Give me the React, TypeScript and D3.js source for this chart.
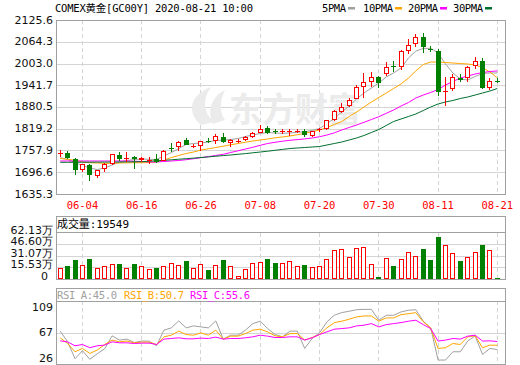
import * as d3 from "d3";

// trading days shown (06-01 .. 08-21)
const dates = [
  "06-01", "06-02", "06-03", "06-04", "06-05", "06-08", "06-09", "06-10", "06-11", "06-12",
  "06-15", "06-16", "06-17", "06-18", "06-19", "06-22", "06-23", "06-24", "06-25", "06-26",
  "06-29", "06-30", "07-01", "07-02", "07-03", "07-06", "07-07", "07-08", "07-09", "07-10",
  "07-13", "07-14", "07-15", "07-16", "07-17", "07-20", "07-21", "07-22", "07-23", "07-24",
  "07-27", "07-28", "07-29", "07-30", "07-31", "08-03", "08-04", "08-05", "08-06", "08-07",
  "08-10", "08-11", "08-12", "08-13", "08-14", "08-17", "08-18", "08-19", "08-20", "08-21",
];

const open = [
  1751, 1750, 1733, 1703, 1717, 1687, 1705, 1719, 1745, 1735,
  1740, 1731, 1730, 1733, 1728, 1764, 1767, 1787, 1769, 1771,
  1786, 1786, 1797, 1778, 1784, 1787, 1797, 1808, 1820, 1813,
  1810, 1811, 1812, 1813, 1799, 1816, 1819, 1844, 1867, 1884,
  1903, 1938, 1952, 1966, 1973, 1997, 1994, 2039, 2057, 2077,
  2045, 2039, 1924, 1930, 1962, 1961, 1997, 2010, 1935, 1955,
];
const high = [
  1759, 1756, 1736, 1721, 1719, 1704, 1722, 1748, 1753, 1753,
  1742, 1740, 1739, 1748, 1759, 1778, 1784, 1792, 1776, 1786,
  1792, 1804, 1808, 1789, 1790, 1799, 1809, 1830, 1827, 1818,
  1818, 1818, 1819, 1818, 1813, 1822, 1845, 1871, 1891, 1905,
  1942, 1975, 1980, 1967, 2006, 2010, 2040, 2072, 2086, 2090,
  2053, 2043, 1964, 1973, 1973, 1996, 2022, 2019, 1963, 1963,
];
const low = [
  1740, 1734, 1690, 1697, 1673, 1681, 1698, 1718, 1729, 1726,
  1706, 1725, 1720, 1722, 1727, 1755, 1757, 1772, 1764, 1757,
  1780, 1776, 1780, 1767, 1780, 1786, 1792, 1806, 1804, 1805,
  1804, 1800, 1807, 1797, 1797, 1811, 1817, 1842, 1863, 1880,
  1902, 1905, 1938, 1935, 1968, 1980, 1985, 2029, 2050, 2032,
  2035, 1912, 1882, 1926, 1952, 1952, 1988, 1931, 1928, 1948,
];
const close = [
  1752, 1736, 1703, 1720, 1689, 1703, 1719, 1747, 1734, 1737,
  1733, 1736, 1731, 1725, 1756, 1761, 1783, 1773, 1770, 1785,
  1784, 1799, 1783, 1787, 1785, 1795, 1808, 1818, 1808, 1811,
  1812, 1812, 1813.5, 1801, 1812, 1818, 1843, 1870, 1881, 1900,
  1938, 1952, 1966, 1947, 1994, 1994, 2038, 2055, 2077, 2049,
  2042, 1924, 1926, 1964, 1957, 1992, 2010, 1935, 1955, 1953,
];

const ma5 = [
  1737.6, 1732.5, 1724.0, 1715.6, 1708.5, 1704.3, 1708.5, 1717.0, 1725.4, 1729.7,
  1732.5, 1733.9, 1733.1, 1732.5, 1742.4, 1752.2, 1763.5, 1774.8, 1777.6, 1779.0,
  1781.8, 1786.0, 1787.4, 1788.8, 1791.7, 1797.3, 1801.5, 1805.8, 1808.6, 1807.2,
  1806.3, 1807.2, 1809.1, 1810.8, 1814.2, 1819.9, 1833.9, 1848.0, 1866.3, 1883.3,
  1903.0, 1919.9, 1934.0, 1948.1, 1965.0, 1976.3, 1990.3, 2018.5, 2038.2, 2045.3,
  2045.9, 2032.6, 2001.6, 1976.3, 1959.3, 1956.5, 1966.4, 1974.8, 1976.3, 1976.3,
];
const ma10 = [
  1735.3, 1733.0, 1730.2, 1725.4, 1723.5, 1722.6, 1721.8, 1721.8, 1722.6, 1723.2,
  1723.5, 1723.5, 1724.0, 1725.4, 1731.1, 1738.1, 1743.8, 1749.4, 1753.6, 1759.3,
  1762.6, 1766.3, 1769.9, 1773.9, 1777.6, 1781.2, 1784.6, 1787.4, 1790.3, 1793.6,
  1796.2, 1798.7, 1802.4, 1806.3, 1810.8, 1815.6, 1822.7, 1831.1, 1839.6, 1853.7,
  1866.3, 1880.4, 1894.5, 1907.2, 1919.9, 1932.6, 1945.2, 1962.2, 1981.9, 2000.2,
  2007.2, 2007.2, 2005.8, 2004.4, 2003.0, 2001.6, 1998.8, 1991.7, 1979.1, 1962.2,
];
const ma20 = [
  1728.3, 1728.3, 1728.3, 1728.3, 1728.3, 1728.3, 1728.3, 1728.3, 1728.3, 1728.3,
  1727.7, 1726.9, 1725.4, 1725.4, 1726.9, 1728.3, 1729.7, 1731.9, 1734.7, 1737.6,
  1740.7, 1743.8, 1747.2, 1752.2, 1757.0, 1762.1, 1766.9, 1772.5, 1777.6, 1781.0,
  1784.1, 1786.6, 1788.6, 1790.5, 1793.1, 1796.7, 1801.5, 1807.7, 1815.6, 1822.7,
  1829.7, 1837.3, 1845.2, 1853.1, 1862.7, 1872.0, 1883.3, 1893.1, 1905.8, 1914.2,
  1921.3, 1929.7, 1942.4, 1952.3, 1962.2, 1967.8, 1973.4, 1977.6, 1980.5, 1981.9,
];
const ma30 = [
  1724.6, 1724.6, 1724.6, 1724.9, 1724.9, 1725.2, 1725.2, 1725.4, 1725.4, 1725.7,
  1726.0, 1726.3, 1727.7, 1728.8, 1730.2, 1731.6, 1733.3, 1734.7, 1736.4, 1738.1,
  1739.8, 1741.8, 1743.5, 1745.2, 1747.2, 1749.1, 1751.4, 1753.6, 1755.9, 1758.4,
  1761.0, 1763.5, 1764.9, 1766.3, 1767.7, 1769.1, 1773.4, 1777.6, 1781.8, 1787.4,
  1793.1, 1800.1, 1808.6, 1817.0, 1828.3, 1839.6, 1846.6, 1853.7, 1860.7, 1870.6,
  1880.4, 1888.9, 1894.5, 1898.8, 1904.4, 1908.6, 1914.2, 1919.9, 1925.5, 1932.6,
];

const volume = [
  146000, 177000, 256000, 190000, 270000, 146000, 177000, 203000, 203000, 146000,
  203000, 177000, 137000, 146000, 177000, 220000, 190000, 234000, 146000, 203000,
  123000, 190000, 256000, 177000, 44000, 137000, 212000, 226000, 270000, 220000,
  212000, 243000, 177000, 190000, 159000, 177000, 266000, 389000, 398000, 292000,
  412000, 425000, 203000, 27000, 279000, 177000, 266000, 358000, 309000, 402000,
  256000, 566000, 455000, 345000, 243000, 292000, 358000, 455000, 389000, 19549,
];
const volUp = [
  1, 0, 0, 1, 0, 1, 1, 1, 0, 1,
  0, 1, 1, 0, 1, 1, 1, 0, 1, 1,
  0, 1, 0, 1, 1, 1, 1, 1, 0, 0,
  1, 1, 1, 0, 1, 1, 1, 1, 1, 1,
  1, 1, 1, 0, 1, 0, 1, 1, 1, 0,
  0, 0, 1, 1, 0, 1, 1, 0, 1, 0,
];

const rsiA = [
  69.3, 55.3, 33, 43.5, 32.3, 39.5, 46.1, 63.1, 57.5, 58.8,
  54.3, 56.2, 56.2, 50, 70.6, 73.6, 82.8, 73.6, 76.2, 74.9,
  73.6, 82.8, 58.8, 64, 64, 70.6, 79.2, 82.4, 72.7, 64.8,
  61.8, 69.3, 69.3, 46.5, 59.6, 67.1, 81.5, 90.3, 93.7, 95.5,
  97.5, 98, 98, 83.7, 90.2, 90.2, 94.6, 96.8, 97.5, 82.4,
  73.6, 31.2, 31.2, 42.1, 42.1, 56.2, 63.1, 38.6, 46.5, 45.0,
];
const rsiB = [
  60.5, 53, 42.1, 46.5, 39.9, 44.4, 51.7, 57.5, 55.2, 56.2,
  53.9, 54.8, 54.8, 51.7, 61.8, 64, 69.3, 64.8, 64, 67,
  64, 70.6, 58.8, 62.7, 62.7, 66.1, 70.6, 71.9, 68.3, 63.1,
  61.8, 66.1, 66.1, 57.5, 60.9, 64.8, 73.6, 80.5, 82.4, 85,
  88, 89.3, 89.3, 82.4, 86.7, 86.7, 91, 92.3, 93.6, 81.5,
  73.6, 46.5, 47.4, 53, 51.7, 61.8, 63.1, 47.4, 50.9, 50.7,
];
const rsiC = [
  56.5, 55.2, 50, 51.7, 47.4, 50, 50.9, 55.2, 53.9, 53.9,
  53, 53.5, 53.5, 51.7, 58.8, 59.6, 60.5, 59.2, 59.2, 60.1,
  59.6, 61.4, 58.8, 59.6, 59.6, 60.5, 61.8, 64, 62.7, 60.9,
  60.9, 61.8, 61.8, 57.5, 60.5, 64.8, 68.3, 71.9, 72.7, 73.6,
  76.2, 77.1, 79.2, 74.9, 77.9, 79.2, 80.5, 82.4, 83.7, 77.9,
  72.7, 56.2, 57.5, 59.6, 58.8, 62.7, 64, 56.2, 56.5, 55.6,
];

const priceTicks = [2125.6, 2064.3, 2003.0, 1941.7, 1880.5, 1819.2, 1757.9, 1696.6, 1635.3];
const volTicks = [621300, 466000, 310700, 155300, 0];
const volTickLabels = ["62.13万", "46.60万", "31.07万", "15.53万", "0"];
const rsiTicks = [109, 67, 26];
const dateTicks = ["06-04", "06-16", "06-26", "07-08", "07-20", "07-30", "08-11", "08-21"];

const maNames = ["5PMA", "10PMA", "20PMA", "30PMA"];
const maColors = ["#a0a0a0", "#ffa500", "#ff00ff", "#006f2e"];
const rsiNames = ["RSI_A", "RSI_B", "RSI_C"];
const rsiColors = ["#a0a0a0", "#ffa500", "#ff00ff"];

const RED = "#ff0000";
const GREEN = "#008000";
const FRAME = "#a0a0a0";
const GRID = "#d4d4d4";
const numFont = "'DejaVu Sans', sans-serif";
const monoFont = "'DejaVu Sans Mono', 'Noto Sans CJK SC', monospace";

export default function App() {
  const L = 56.5, R = 505.5;
  const x = d3.scaleLinear().domain([-0.5, 60.1]).range([L, R]);
  const py = d3.scaleLinear().domain([1635.3, 2125.6]).range([194, 20]);
  const vy = d3.scaleLinear().domain([0, 621300]).range([279, 232.5]);
  const ry = d3.scaleLinear().domain([26, 109]).range([364, 301]);

  const idx = d3.range(dates.length);
  const tickIdx = dateTicks.map((t) => dates.indexOf(t));
  const mas = [ma5, ma10, ma20, ma30];
  const rsis = [rsiA, rsiB, rsiC];

  const priceLine = (arr: number[]) =>
    d3.line<number>().x((i) => x(i)).y((i) => py(arr[i]))(idx) || "";
  const rsiLine = (arr: number[]) =>
    d3.line<number>().x((i) => x(i)).y((i) => ry(arr[i]))(idx) || "";

  const vLines = (y0: number, y1: number) =>
    tickIdx.map((i) => (
      <line key={i} x1={Math.floor(x(i)) + 0.5} x2={Math.floor(x(i)) + 0.5} y1={y0} y2={y1}
        stroke={GRID} strokeDasharray="4,3" />
    ));

  const legendX = [322, 363, 408, 453];
  const legendW = [24, 30, 30, 30];
  const rsiHeadX = [57, 124, 190];

  return (
    <svg width={520} height={365} style={{ position: "absolute", left: 0, top: 0, background: "#fff" }}>
      <rect width={520} height={365} fill="#fff" />

      {/* title + legend */}
      <text x={55} y={12} fontFamily={monoFont} fontSize={10.5} fill="#000" textLength={198}
        lengthAdjust="spacing">COMEX黄金[GC00Y] 2020-08-21 10:00</text>
      {maNames.map((n, k) => (
        <g key={n}>
          <text x={legendX[k]} y={12} fontFamily={monoFont} fontSize={10.5} fill="#000"
            textLength={legendW[k]} lengthAdjust="spacing">{n}</text>
          <rect x={legendX[k] + legendW[k] + 2} y={7} width={7} height={2.5} fill={maColors[k]} />
        </g>
      ))}

      {/* ---------- price panel ---------- */}
      <g shapeRendering="crispEdges">
        {priceTicks.map((t) => (
          <line key={t} x1={L} x2={R} y1={Math.round(py(t)) + 0.5} y2={Math.round(py(t)) + 0.5} stroke={GRID} />
        ))}
        {vLines(20, 194)}
      </g>

      {/* watermark */}
      <g fill="#ebebeb">
        <path d="M201 125 C186 112 190 95 211 87 C202 100 203 112 214 122 Z" />
        <path d="M213 124 C207 111 211 97 225 90 C219 103 220 113 225 120 Z" />
        <text x={229} y={122} fontFamily="'Noto Sans CJK SC', sans-serif" fontWeight="bold" fontSize={34}
          textLength={132} lengthAdjust="spacingAndGlyphs">东方财富</text>
      </g>

      {mas.map((arr, k) => (
        <path key={k} d={priceLine(arr)} fill="none" stroke={maColors[k]} strokeWidth={1} />
      ))}

      <g shapeRendering="crispEdges">
        {idx.map((i) => {
          const px = Math.floor(x(i));
          const up = close[i] >= open[i];
          const col = up ? RED : GREEN;
          const top = Math.round(py(Math.max(open[i], close[i])));
          const bot = Math.round(py(Math.min(open[i], close[i])));
          const yH = Math.round(py(high[i]));
          const yL = Math.round(py(low[i]));
          if (bot - top < 2) {
            return (
              <g key={i} fill={col}>
                <rect x={px} y={yH} width={1} height={Math.max(yL - yH, 1)} />
                <rect x={px - 2} y={top} width={5} height={1} />
              </g>
            );
          }
          if (up) {
            return (
              <g key={i}>
                <rect x={px} y={yH} width={1} height={Math.max(top - yH, 0)} fill={col} />
                <rect x={px} y={bot} width={1} height={Math.max(yL - bot, 0)} fill={col} />
                <rect x={px - 1.5} y={top + 0.5} width={4} height={bot - top - 1} fill="#fff" stroke={col} />
              </g>
            );
          }
          return (
            <g key={i} fill={col}>
              <rect x={px} y={yH} width={1} height={yL - yH} />
              <rect x={px - 2} y={top} width={5} height={bot - top} />
            </g>
          );
        })}
      </g>

      <rect x={L} y={20.5} width={R - L} height={173.5} fill="none" stroke={FRAME} shapeRendering="crispEdges" />

      {priceTicks.map((t) => (
        <text key={t} x={53} y={py(t)} textAnchor="end" dominantBaseline="central"
          fontFamily={numFont} fontSize={11} fill="#111">{t.toFixed(1)}</text>
      ))}
      {tickIdx.map((i, k) => (
        <text key={k} x={x(i)} y={204.5} textAnchor="middle" dominantBaseline="central"
          fontFamily={monoFont} fontSize={10.5} fill={RED}>{dateTicks[k]}</text>
      ))}

      {/* ---------- volume panel ---------- */}
      <g shapeRendering="crispEdges">
        {volTicks.slice(1, -1).map((t) => (
          <line key={t} x1={L} x2={R} y1={Math.round(vy(t)) + 0.5} y2={Math.round(vy(t)) + 0.5} stroke={GRID} />
        ))}
        {vLines(232.5, 279)}
        {idx.map((i) => {
          const px = Math.floor(x(i));
          const top = Math.round(vy(volume[i]));
          const base = 279;
          if (volUp[i]) {
            return (
              <rect key={i} x={px - 1.5} y={top + 0.5} width={4} height={Math.max(base - top - 1, 0)}
                fill="#fff" stroke={RED} />
            );
          }
          return <rect key={i} x={px - 2} y={top} width={5} height={Math.max(base - top, 1)} fill={GREEN} />;
        })}
        <rect x={L} y={216.5} width={R - L} height={63} fill="none" stroke={FRAME} />
        <line x1={L} x2={R} y1={232.5} y2={232.5} stroke={FRAME} />
      </g>
      <text x={57} y={224.5} dominantBaseline="central" fontFamily={monoFont} fontSize={11} fill="#000"
        textLength={72} lengthAdjust="spacing">成交量:{volume[volume.length - 1]}</text>
      {volTicks.map((t, k) => (
        <text key={t} x={volTickLabels[k].endsWith("万") ? 53 : 48} y={vy(t) - 2.5} textAnchor="end"
          dominantBaseline="central" fontFamily={numFont} fontSize={11} fill="#111">{volTickLabels[k]}</text>
      ))}

      {/* ---------- RSI panel ---------- */}
      <g shapeRendering="crispEdges">
        <line x1={L} x2={R} y1={Math.round(ry(67.5)) + 0.5} y2={Math.round(ry(67.5)) + 0.5} stroke={GRID} />
        {vLines(301, 364)}
      </g>
      {rsis.map((arr, k) => (
        <path key={k} d={rsiLine(arr)} fill="none" stroke={rsiColors[k]} strokeWidth={1} />
      ))}
      <g shapeRendering="crispEdges">
        <rect x={L} y={288.5} width={R - L} height={75.5} fill="none" stroke={FRAME} />
        <line x1={L} x2={R} y1={301.5} y2={301.5} stroke={FRAME} />
      </g>
      {rsis.map((arr, k) => (
        <text key={k} x={rsiHeadX[k]} y={295} dominantBaseline="central" fontFamily={monoFont}
          fontSize={10.5} fill={rsiColors[k]} textLength={60} lengthAdjust="spacing">
          {rsiNames[k]}:{arr[arr.length - 1].toFixed(1)}
        </text>
      ))}
      {rsiTicks.map((t) => (
        <text key={t} x={53} y={Math.min(Math.max(ry(t), 307.5), 358)} textAnchor="end"
          dominantBaseline="central" fontFamily={numFont} fontSize={11} fill="#111">{t}</text>
      ))}
    </svg>
  );
}
